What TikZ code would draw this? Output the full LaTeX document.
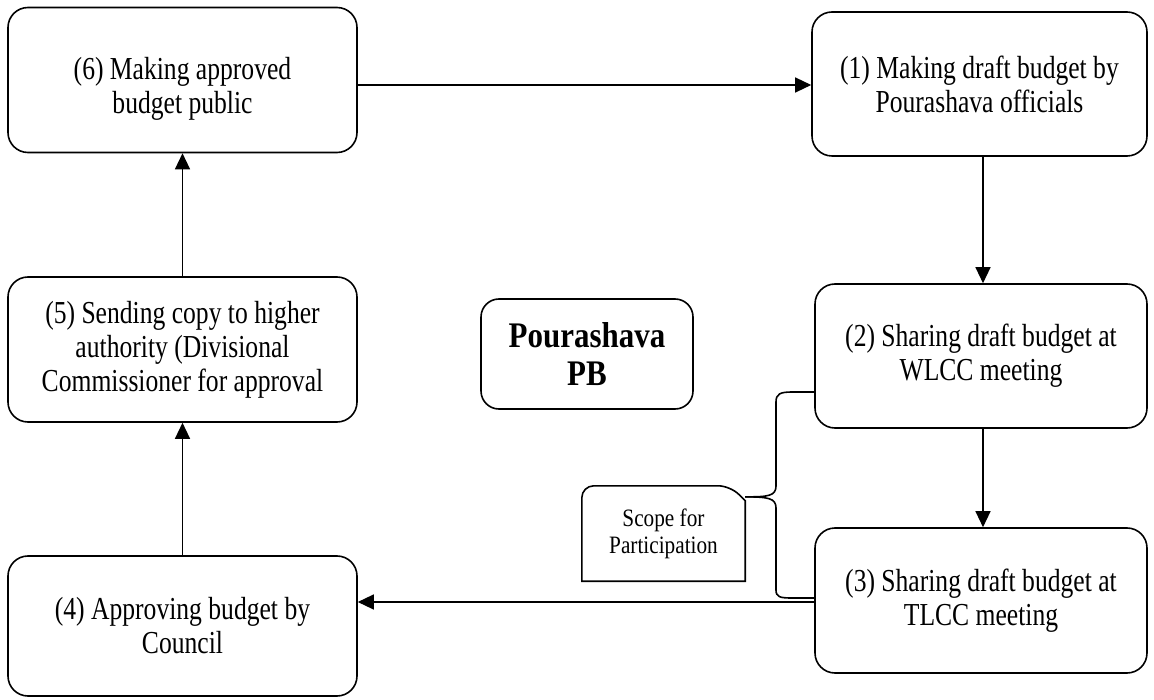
\documentclass[tikz,border=0pt]{standalone}
\usepackage{fontspec}
\setmainfont{Liberation Serif}
\newfontfamily\stepfont[FakeStretch=0.8]{Liberation Serif}
\newfontfamily\titlefont[FakeStretch=0.86]{Liberation Serif}
\newfontfamily\notefont[FakeStretch=0.85]{Liberation Serif}
\usetikzlibrary{arrows.meta,calc}
\begin{document}
\begin{tikzpicture}[x=1pt,y=-1pt,
  stepbox/.style={draw, line width=1.6pt, rounded corners=20pt, align=center,
    font=\stepfont\fontsize{32}{34}\selectfont, inner sep=0pt},
  steptext/.style={align=center, font=\stepfont\fontsize{32}{34}\selectfont, inner sep=0pt},
  flow/.style={line width=1.3pt, -{Triangle[width=15pt,length=16pt]}},
  bracket/.style={line width=1.6pt}]
\useasboundingbox (0,0) rectangle (1154,700);

% process steps
\node[stepbox, minimum width=349pt, minimum height=145pt] (b6) at (182.5,80) {};
\node[steptext] (b6text) at ($(b6.center)+(0,9)$) {(6) Making approved\\budget public};
\node[stepbox, minimum width=335pt, minimum height=144pt] (b1) at (979.5,84)
  {(1) Making draft budget by\\Pourashava officials};
\node[stepbox, minimum width=332pt, minimum height=144pt] (b2) at (981,356)
  {(2) Sharing draft budget at\\WLCC meeting};
\node[stepbox, minimum width=332pt, minimum height=145pt] (b3) at (981,600.5)
  {(3) Sharing draft budget at\\TLCC meeting};
\node[stepbox, minimum width=349pt, minimum height=140pt] (b4) at (182.5,626)
  {(4) Approving budget by\\Council};
\node[stepbox, minimum width=349pt, minimum height=145pt] (b5) at (182.5,349.5)
  {(5) Sending copy to higher\\authority (Divisional\\Commissioner for approval};

% central label
\node[stepbox, rounded corners=18pt, minimum width=212pt, minimum height=110pt,
  font=\titlefont\bfseries\fontsize{36}{38}\selectfont] (pb) at (587,354) {Pourashava\\PB};

% callout
\node[minimum width=163pt, minimum height=95pt, inner sep=0pt, align=center,
  font=\notefont\fontsize{25}{27}\selectfont] (scope) at (663.5,533.5) {Scope for\\Participation};
\draw[line width=1.6pt] (scope.south west)
  {[rounded corners=12pt] -- (scope.north west) -- ($(scope.north east)+(-15,0)$)}
  -- ($(scope.north east)+(0,15)$) -- (scope.south east) -- cycle;
\coordinate (tip) at ($(scope.north east)+(0,11)$);

% bracket linking the callout to steps 2 and 3
\draw[bracket] (tip) .. controls (768,497) and (776,496) .. (776,486)
  -- (776,402) .. controls (776,394) and (780,392) .. (792,392) -- (b2.west |- 0,392);
\draw[bracket] (tip) .. controls (768,497) and (776,498) .. (776,508)
  -- (776,590) .. controls (776,597) and (780,598) .. (792,598) -- (b3.west |- 0,598);

% flow arrows
\coordinate (rcol) at (983,0);
\draw[flow] (b6.east |- 0,85) -- (b1.west |- 0,85);
\draw[flow] (rcol |- b1.south) -- (rcol |- b2.north);
\draw[flow] (rcol |- b2.south) -- (rcol |- b3.north);
\draw[flow] (b3.west |- 0,602) -- (b4.east |- 0,602);
\draw[flow] (b4.north) -- (b5.south);
\draw[flow] (b5.north) -- (b6.south);
\end{tikzpicture}
\end{document}
